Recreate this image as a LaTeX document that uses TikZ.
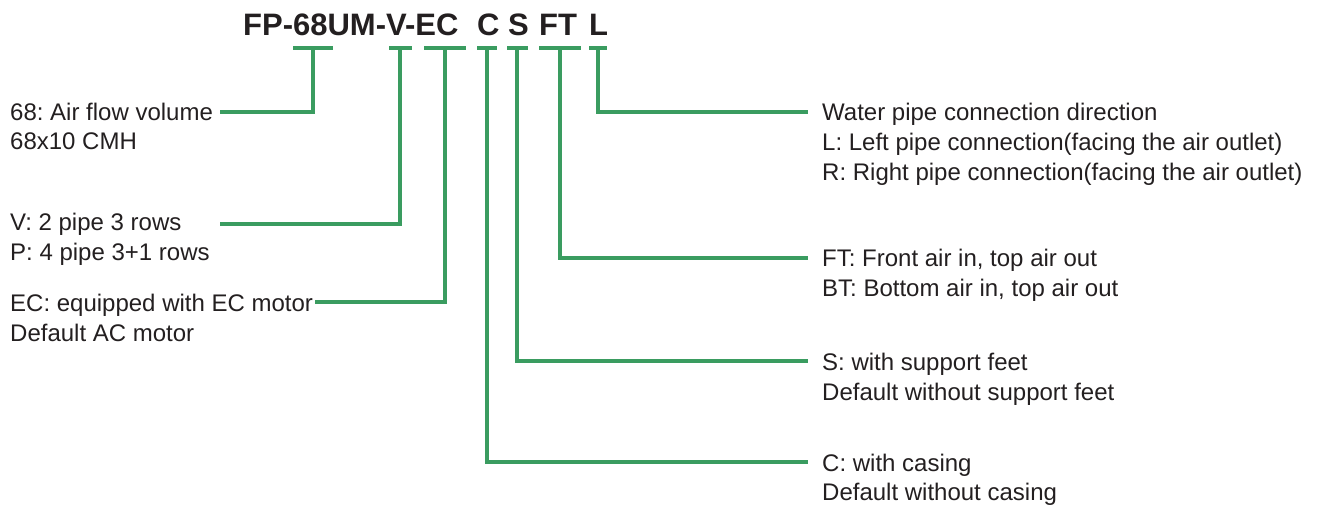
\documentclass[tikz,border=0pt]{standalone}
\usepackage{fontspec}
\setmainfont{Liberation Sans}
\frenchspacing
\definecolor{lead}{HTML}{3A9C60}
\definecolor{ink}{HTML}{231F20}
\begin{document}
\begin{tikzpicture}[x=1pt,y=-1pt,
  desc/.style={anchor=base west,inner sep=0pt,text=ink,font=\fontsize{24}{29}\selectfont},
  code/.style={anchor=base west,inner sep=0pt,text=ink,font=\fontsize{31}{35}\selectfont\bfseries},
  leader/.style={draw=lead,line width=3.6pt,line join=miter,line cap=butt},
  tick/.style={draw=lead,line width=3.6pt}]
\useasboundingbox (0,0) rectangle (1320,505);
% title segments
\node[code] (t1) at (243,36) {FP-68UM-V-EC};
\node[code] (t2) at (477,36) {C};
\node[code] (t3) at (508,36) {S};
\node[code] (t4) at (539,36) {FT};
\node[code] (t5) at (589,36) {L};
% tick bars
\coordinate (b68) at (313,48);
\coordinate (bV) at (400,48);
\coordinate (bEC) at (445,48);
\coordinate (bC) at (487,48);
\coordinate (bS) at (517,48);
\coordinate (bFT) at (560,48);
\coordinate (bL) at (598,48);
\draw[tick] (293,48) -- (333,48);
\draw[tick] (389,48) -- (412,48);
\draw[tick] (424,48) -- (466,48);
\draw[tick] (477,48) -- (497,48);
\draw[tick] (507,48) -- (528,48);
\draw[tick] (539,48) -- (581,48);
\draw[tick] (589,48) -- (607,48);
% left descriptions
\node[desc] (d68) at (10,121) {68: Air flow volume};
\node[desc] (d68b) at (10,150) {68x10 CMH};
\node[desc] (dV) at (10,231) {V: 2 pipe 3 rows};
\node[desc] (dVb) at (10,260) {P: 4 pipe 3+1 rows};
\node[desc] (dEC) at (10,311) {EC: equipped with EC motor};
\node[desc] (dECb) at (10,341) {Default AC motor};
% right descriptions
\node[desc] (dL) at (822,121) {Water pipe connection direction};
\node[desc] (dLb) at (822,151) {L: Left pipe connection(facing the air outlet)};
\node[desc] (dLc) at (822,181) {R: Right pipe connection(facing the air outlet)};
\node[desc] (dFT) at (822,266) {FT: Front air in, top air out};
\node[desc] (dFTb) at (822,296) {BT: Bottom air in, top air out};
\node[desc] (dS) at (822,370) {S: with support feet};
\node[desc] (dSb) at (822,400) {Default without support feet};
\node[desc] (dC) at (822,471) {C: with casing};
\node[desc] (dCb) at (822,500) {Default without casing};
% connectors
\coordinate (e68) at (220,112);
\coordinate (eV) at (220,224);
\coordinate (eEC) at (315,302);
\coordinate (eL) at (808,112);
\coordinate (eFT) at (808,258);
\coordinate (eS) at (808,361);
\coordinate (eC) at (808,462);
\draw[leader] (b68) |- (e68);
\draw[leader] (bV) |- (eV);
\draw[leader] (bEC) |- (eEC);
\draw[leader] (bL) |- (eL);
\draw[leader] (bFT) |- (eFT);
\draw[leader] (bS) |- (eS);
\draw[leader] (bC) |- (eC);
\end{tikzpicture}
\end{document}
